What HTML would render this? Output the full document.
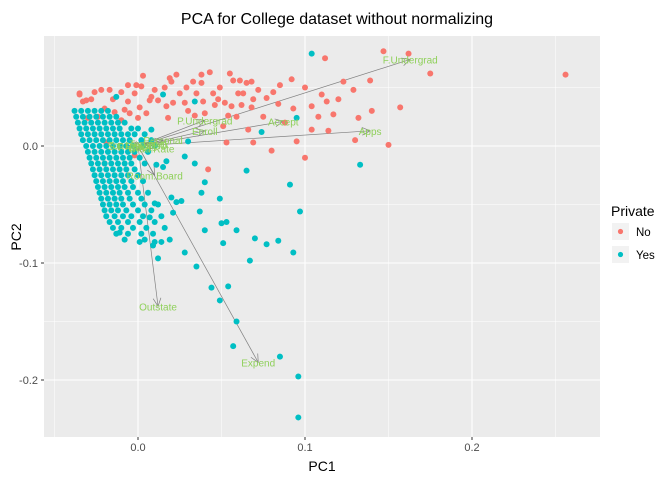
<!DOCTYPE html>
<html><head><meta charset="utf-8"><style>
body{margin:0;background:#fff;font-family:"Liberation Sans",sans-serif}
</style></head><body>
<svg id="chart" width="672" height="480" xmlns="http://www.w3.org/2000/svg" font-family="Liberation Sans, sans-serif">
<rect x="44" y="36" width="556" height="401" fill="#ebebeb"/>
<g id="grid"></g>
<g id="arrows"></g>
<g id="points"></g>
<g id="labels"></g>
<g id="axes"></g>
<text x="337" y="24" text-anchor="middle" font-size="16" fill="#000">PCA for College dataset without normalizing</text>
<text x="322" y="471" text-anchor="middle" font-size="14" fill="#000">PC1</text>
<text transform="translate(21,237) rotate(-90)" text-anchor="middle" font-size="14" fill="#000">PC2</text>
<g>
<text x="611" y="216" font-size="14">Private</text>
<rect x="612" y="223" width="17" height="17" fill="#f2f2f2"/>
<circle cx="620.5" cy="231.5" r="2.6" fill="#f8766d"/>
<text x="636" y="236" font-size="11.5" fill="#000">No</text>
<rect x="612" y="246" width="17" height="17" fill="#f2f2f2"/>
<circle cx="620.5" cy="254.5" r="2.6" fill="#00bfc4"/>
<text x="636" y="259" font-size="11.5" fill="#000">Yes</text>
</g>
</svg>
<script>
const xTicks=[0,0.1,0.2];
const xTickLabels=["0.0","0.1","0.2"];
const yTicks=[0,-0.1,-0.2];
const yTickLabels=["0.0","-0.1","-0.2"];
const xMinor=[-0.05,0.05,0.15,0.25];
const yMinor=[0.05,-0.05,-0.15];
const privateNo=[[0.112,0.075],[0.023,0.061],[0.038,0.061],[0.043,0.063],[0.057,0.056],[0.061,0.056],[0.065,0.054],[0.068,0.055],[0.092,0.057],[-0.001,0.052],[0.002,0.051],[0.016,0.050],[0.019,0.058],[0.029,0.050],[0.038,0.054],[0.049,0.050],[0.081,0.046],[0.110,0.044],[0.113,0.038],[0.104,0.034],[0.093,0.032],[0.104,0.014],[0.114,0.013],[0.095,0.004],[0.100,-0.010],[0.080,-0.004],[0.069,0.003],[0.053,0.003],[0.042,-0.020],[0.066,0.014],[0.059,0.025],[0.054,0.026],[0.051,0.017],[0.034,0.026],[0.028,0.037],[0.039,0.038],[0.046,0.035],[0.052,0.037],[0.056,0.034],[0.062,0.035],[0.068,0.033],[0.069,0.040],[0.077,0.041],[0.084,0.036],[0.063,0.045],[0.045,0.045],[0.035,0.045],[0.021,0.037],[0.017,0.034],[0.012,0.039],[0.008,0.042],[0.007,0.039],[0.001,0.033],[0.000,0.024],[-0.005,0.028],[-0.010,0.046],[-0.017,0.048],[-0.022,0.048],[-0.026,0.046],[-0.033,0.038],[-0.035,0.045],[-0.030,0.024],[-0.024,0.025],[-0.020,0.032],[-0.014,0.029],[-0.008,0.031],[-0.006,0.038],[-0.019,0.003],[-0.020,-0.015],[-0.002,-0.008],[-0.035,0.044],[-0.031,0.039],[0.123,0.055],[0.129,0.048],[0.147,0.081],[0.162,0.079],[0.175,0.062],[0.256,0.061],[0.150,0.001],[0.132,0.024],[0.139,0.056],[0.157,0.033],[0.117,0.027],[-0.028,0.040],[-0.015,0.040],[-0.002,0.045],[0.010,0.048],[0.025,0.045],[0.030,0.030],[0.040,0.028],[0.005,0.028],[-0.010,0.022],[0.018,0.024],[0.072,0.048],[0.085,0.052],[0.100,0.050],[0.060,0.045],[0.048,0.040],[0.020,0.055],[0.120,0.040],[0.140,0.030],[0.108,0.025],[0.088,0.020],[0.075,0.025],[0.130,0.005],[0.033,0.055],[0.003,0.060],[-0.006,0.052],[0.055,0.062]];
const privateYes=[[0.104,0.079],[-0.013,0.042],[0.034,0.038],[0.015,0.044],[0.008,0.014],[0.074,0.012],[0.095,0.024],[0.030,0.004],[0.028,-0.009],[0.034,-0.015],[0.065,-0.021],[0.091,-0.033],[0.040,-0.031],[0.038,-0.040],[0.049,-0.045],[0.037,-0.056],[0.097,-0.056],[0.053,-0.065],[0.059,-0.072],[0.077,-0.084],[0.084,-0.081],[0.051,-0.083],[0.020,-0.044],[0.026,-0.047],[0.023,-0.048],[0.021,-0.057],[0.015,-0.018],[0.011,-0.016],[0.017,-0.013],[0.010,-0.049],[0.007,-0.061],[0.001,-0.082],[-0.011,-0.074],[0.010,-0.082],[0.014,-0.082],[0.044,-0.121],[0.049,-0.132],[0.059,-0.150],[0.057,-0.171],[0.085,-0.180],[0.096,-0.197],[0.096,-0.232],[0.093,-0.091],[0.067,-0.098],[0.070,-0.079],[0.054,-0.120],[0.035,-0.103],[0.012,-0.096],[0.009,-0.085],[0.133,-0.016],[0.040,-0.072],[0.019,-0.080],[0.028,-0.091],[0.050,-0.066],
[-0.038,0.03],[-0.034,0.03],[-0.030,0.03],[-0.026,0.03],[-0.022,0.03],[-0.018,0.03],
[-0.037,0.025],[-0.033,0.025],[-0.029,0.025],[-0.025,0.025],[-0.021,0.025],[-0.017,0.025],[-0.013,0.025],
[-0.036,0.02],[-0.032,0.02],[-0.028,0.02],[-0.024,0.02],[-0.020,0.02],[-0.016,0.02],[-0.012,0.02],[-0.008,0.02],
[-0.035,0.015],[-0.031,0.015],[-0.027,0.015],[-0.023,0.015],[-0.019,0.015],[-0.015,0.015],[-0.011,0.015],[-0.004,0.015],[0.000,0.015],
[-0.034,0.01],[-0.030,0.01],[-0.026,0.01],[-0.022,0.01],[-0.018,0.01],[-0.014,0.01],[-0.010,0.01],[-0.006,0.01],[-0.002,0.01],[0.004,0.01],
[-0.033,0.005],[-0.029,0.005],[-0.025,0.005],[-0.021,0.005],[-0.017,0.005],[-0.013,0.005],[-0.009,0.005],[-0.005,0.005],[0.002,0.005],[0.008,0.005],
[-0.031,0.0],[-0.027,0.0],[-0.023,0.0],[-0.019,0.0],[-0.015,0.0],[-0.011,0.0],[-0.007,0.0],[-0.003,0.0],[0.003,0.0],[0.010,0.0],
[-0.030,-0.005],[-0.026,-0.005],[-0.022,-0.005],[-0.018,-0.005],[-0.014,-0.005],[-0.010,-0.005],[-0.006,-0.005],[-0.002,-0.005],[0.006,-0.005],
[-0.029,-0.01],[-0.025,-0.01],[-0.021,-0.01],[-0.017,-0.01],[-0.013,-0.01],[-0.009,-0.01],[-0.005,-0.01],[0.001,-0.01],
[-0.028,-0.015],[-0.024,-0.015],[-0.020,-0.015],[-0.016,-0.015],[-0.012,-0.015],[-0.008,-0.015],[-0.004,-0.015],[0.004,-0.015],
[-0.027,-0.02],[-0.023,-0.02],[-0.019,-0.02],[-0.015,-0.02],[-0.011,-0.02],[-0.007,-0.02],[-0.002,-0.02],
[-0.026,-0.025],[-0.022,-0.025],[-0.018,-0.025],[-0.014,-0.025],[-0.010,-0.025],[-0.006,-0.025],[0.000,-0.025],
[-0.025,-0.03],[-0.021,-0.03],[-0.017,-0.03],[-0.013,-0.03],[-0.009,-0.03],[-0.004,-0.03],[0.003,-0.03],
[-0.024,-0.035],[-0.020,-0.035],[-0.016,-0.035],[-0.012,-0.035],[-0.008,-0.035],[-0.003,-0.035],
[-0.023,-0.04],[-0.019,-0.04],[-0.015,-0.04],[-0.011,-0.04],[-0.006,-0.04],[0.000,-0.04],[0.006,-0.04],
[-0.022,-0.045],[-0.018,-0.045],[-0.014,-0.045],[-0.010,-0.045],[-0.005,-0.045],[0.002,-0.045],
[-0.021,-0.05],[-0.017,-0.05],[-0.013,-0.05],[-0.009,-0.05],[-0.003,-0.05],[0.004,-0.05],[0.012,-0.05],
[-0.020,-0.055],[-0.016,-0.055],[-0.012,-0.055],[-0.007,-0.055],[0.000,-0.055],[0.008,-0.055],
[-0.019,-0.06],[-0.014,-0.06],[-0.009,-0.06],[-0.004,-0.06],[0.003,-0.06],[0.014,-0.06],
[-0.017,-0.065],[-0.012,-0.065],[-0.006,-0.065],[0.001,-0.065],[0.010,-0.065],
[-0.015,-0.07],[-0.010,-0.07],[-0.003,-0.07],[0.005,-0.07],[0.016,-0.07],
[-0.013,-0.075],[-0.006,-0.075],[0.002,-0.075],[0.009,-0.075],[-0.008,-0.08],[0.004,-0.08]];
const loadingNames=["F.Undergrad","Apps","Accept","P.Undergrad","Enroll","Personal","Room.Board","Outstate","Expend","PhD","Terminal","Books","Top10perc","S.F.Ratio","Grad.Rate"];
const loadingPC1=[0.163,0.139,0.087,0.040,0.040,0.015,0.010,0.012,0.072,0.012,0.006,0.003,-0.004,-0.006,0.008];
const loadingPC2=[0.074,0.013,0.021,0.022,0.013,0.005,-0.025,-0.137,-0.185,0.001,0.002,-0.001,0.001,0.000,-0.002];

const X=v=>138+v*1670, Y=v=>146-v*1170;
const NS="http://www.w3.org/2000/svg";
function mk(tag,attrs,parent){const e=document.createElementNS(NS,tag);for(const k in attrs)e.setAttribute(k,attrs[k]);parent.appendChild(e);return e;}
const grid=document.getElementById('grid'),axes=document.getElementById('axes');
xMinor.forEach(v=>{const l=mk('line',{x1:X(v),x2:X(v),y1:36,y2:437,stroke:'#fff','stroke-width':0.5},grid);

});
yMinor.forEach(v=>{const l=mk('line',{x1:44,x2:600,y1:Y(v),y2:Y(v),stroke:'#fff','stroke-width':0.5},grid);

});
xTicks.forEach((v,i)=>{const l=mk('line',{x1:X(v),x2:X(v),y1:36,y2:437,stroke:'#fff','stroke-width':1.1},grid);


const t=mk('line',{x1:X(v),x2:X(v),y1:437,y2:440,stroke:'#333'},axes);


const tx=mk('text',{x:X(v),y:451,'text-anchor':'middle','font-size':11,fill:'#4d4d4d'},axes);tx.textContent=xTickLabels[i];

});
yTicks.forEach((v,i)=>{const l=mk('line',{x1:44,x2:600,y1:Y(v),y2:Y(v),stroke:'#fff','stroke-width':1.1},grid);


const t=mk('line',{x1:41,x2:44,y1:Y(v),y2:Y(v),stroke:'#333'},axes);


const tx=mk('text',{x:38,y:Y(v)+4,'text-anchor':'end','font-size':11,fill:'#4d4d4d'},axes);tx.textContent=yTickLabels[i];

});
const pts=document.getElementById('points');
privateNo.forEach(p=>{const c=mk('circle',{cx:X(p[0]),cy:Y(p[1]),r:3,fill:'#f8766d'},pts);

});
privateYes.forEach(p=>{const c=mk('circle',{cx:X(p[0]),cy:Y(p[1]),r:3,fill:'#00bfc4'},pts);

});
const ar=document.getElementById('arrows'),lb=document.getElementById('labels');
loadingNames.forEach((n,i)=>{const x1=X(0),y1=Y(0),x2=X(loadingPC1[i]),y2=Y(loadingPC2[i]);
const g=mk('g',{},ar);


mk('line',{x1,y1,x2,y2,stroke:'#808080','stroke-width':0.7},g);
const a=Math.atan2(y2-y1,x2-x1),h=9,s=0.45;
mk('polyline',{points:`${x2-h*Math.cos(a-s)},${y2-h*Math.sin(a-s)} ${x2},${y2} ${x2-h*Math.cos(a+s)},${y2-h*Math.sin(a+s)}`,fill:'none',stroke:'#808080','stroke-width':0.7},g);
const t=mk('text',{x:x2,y:y2+4,'text-anchor':'middle','font-size':10,fill:'#8fd05a'},lb);t.textContent=n;

});
</script>
</body></html>
